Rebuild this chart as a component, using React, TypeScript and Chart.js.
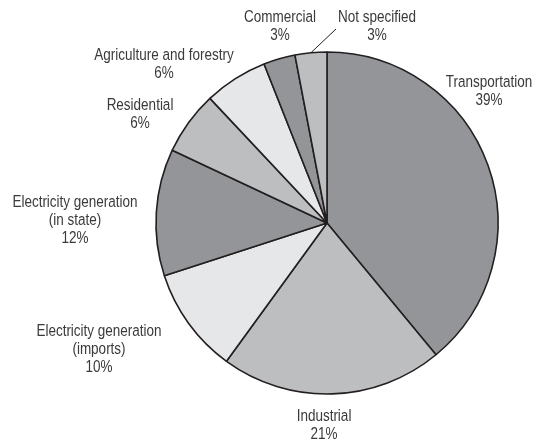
import React, { useEffect, useRef } from "react";
import { Chart, registerables } from "chart.js";

Chart.register(...registerables);

const categories = [
  "Transportation",
  "Industrial",
  "Electricity generation (imports)",
  "Electricity generation (in state)",
  "Residential",
  "Agriculture and forestry",
  "Commercial",
  "Not specified",
];
const labelLines = [
  ["Transportation"],
  ["Industrial"],
  ["Electricity generation", "(imports)"],
  ["Electricity generation", "(in state)"],
  ["Residential"],
  ["Agriculture and forestry"],
  ["Commercial"],
  ["Not specified"],
];
const values = [39, 21, 10, 12, 6, 6, 3, 3];
const sliceColors = ["#939598", "#bcbec0", "#e6e7e8", "#939598", "#bcbec0", "#e6e7e8", "#939598", "#bcbec0"];
// label block centres relative to pie centre
const labelOffsets: [number, number][] = [
  [162, -132],
  [-3, 202],
  [-228, 126],
  [-252, -3],
  [-187, -109],
  [-163, -159],
  [-47, -197],
  [50, -197],
];
// leader line end (relative to pie centre) for slices that need one
const leaderEnds: (null | [number, number])[] = [null, null, null, null, null, null, null, [9, -194]];

const FONT = '17.2px "Liberation Sans", Arial, sans-serif';
const NARROW = 0.785;
const LINE_H = 18;

const labelPlugin = {
  id: "sliceLabels",
  afterDraw(chart: any) {
    const ctx = chart.ctx;
    const meta = chart.getDatasetMeta(0);
    meta.data.forEach((arc: any, i: number) => {
      const cx = arc.x;
      const cy = arc.y;
      const lines = [...labelLines[i], `${values[i]}%`];
      const [dx, dy] = labelOffsets[i];
      lines.forEach((ln, j) => {
        ctx.save();
        ctx.font = FONT;
        ctx.fillStyle = "#3a3a3a";
        ctx.textAlign = "center";
        ctx.textBaseline = "middle";
        ctx.translate(cx + dx, cy + dy + (j - (lines.length - 1) / 2) * LINE_H);
        ctx.scale(NARROW, 1);
        ctx.fillText(ln, 0, 0);
        ctx.restore();
      });
      const le = leaderEnds[i];
      if (le) {
        const mid = (arc.startAngle + arc.endAngle) / 2;
        const r = arc.outerRadius;
        ctx.save();
        ctx.beginPath();
        ctx.strokeStyle = "#231f20";
        ctx.lineWidth = 1;
        ctx.moveTo(cx + Math.cos(mid) * r, cy + Math.sin(mid) * r);
        ctx.lineTo(cx + le[0], cy + le[1]);
        ctx.stroke();
        ctx.restore();
      }
    });
  },
};

export default function App() {
  const ref = useRef<HTMLCanvasElement>(null);
  useEffect(() => {
    document.body.style.margin = "0";
    const chart = new Chart(ref.current!, {
      type: "pie",
      data: {
        labels: categories,
        datasets: [
          {
            data: values,
            backgroundColor: sliceColors,
            borderColor: "#231f20",
            borderWidth: 1.6,
            hoverOffset: 0,
            offset: 0,
          },
        ],
      },
      options: {
        responsive: false,
        animation: false,
        radius: 171,
        layout: { padding: { left: 111, right: 0, top: 4, bottom: 0 } },
        plugins: {
          legend: { display: false },
          tooltip: { enabled: false },
        },
      } as any,
      plugins: [labelPlugin],
    });
    return () => chart.destroy();
  }, []);
  return (
    <div style={{ width: 543, height: 442, background: "#fff" }}>
      <canvas ref={ref} width={543} height={442} />
    </div>
  );
}
